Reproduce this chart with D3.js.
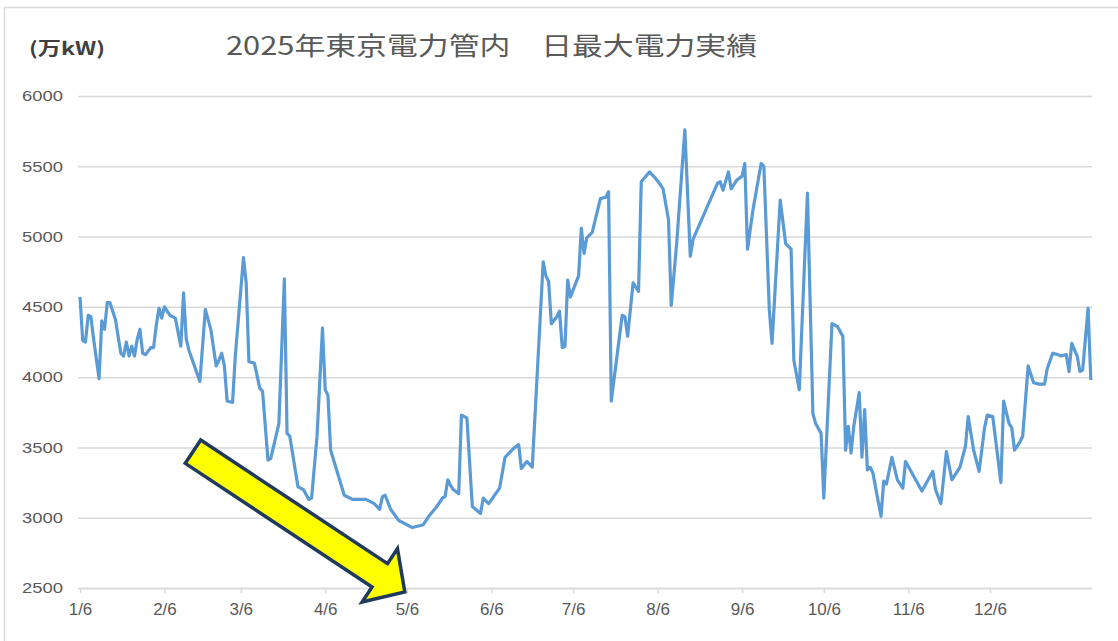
<!DOCTYPE html>
<html>
<head>
<meta charset="utf-8">
<script src="https://cdn.jsdelivr.net/npm/d3@7"></script>
<style>
  html, body { margin: 0; padding: 0; background: #fff; }
  svg { display: block; }
</style>
</head>
<body>
<svg id="chart" width="1118" height="641"></svg>
<script>
// days counted from 1/6, daily max demand (万kW)
const dayOffsets = [
    0, 1, 2, 3, 4, 5, 7, 8, 9, 10, 11, 13, 15, 16, 17, 18, 19, 20, 21, 22,
    23, 24, 26, 27, 28, 29, 30, 31, 33, 35, 37, 38, 39, 40, 44, 46, 48, 50, 51, 52,
    53, 54, 56, 57, 60, 61, 62, 64, 66, 67, 69, 70, 73, 75, 76, 77, 80, 82, 84, 85,
    87, 89, 90, 91, 92, 97, 100, 105, 108, 110, 111, 112, 114, 117, 122, 126, 128, 131, 133, 134,
    135, 136, 137, 139, 140, 142, 144, 147, 148, 150, 154, 156, 159, 161, 162, 164, 166, 170, 171, 172,
    173, 175, 176, 177, 178, 179, 180, 183, 184, 185, 186, 188, 191, 193, 194, 195, 199, 200, 201, 203,
    205, 206, 209, 211, 213, 214, 216, 217, 219, 222, 224, 225, 234, 235, 236, 238, 239, 241, 243, 244,
    245, 247, 250, 251, 253, 254, 257, 259, 261, 262, 264, 267, 269, 270, 272, 273, 276, 278, 280, 281,
    282, 283, 284, 286, 287, 288, 289, 290, 291, 294, 295, 296, 298, 300, 302, 303, 305, 309, 311, 313,
    314, 316, 318, 320, 323, 325, 326, 328, 330, 332, 333, 335, 338, 339, 341, 342, 343, 345, 346, 348,
    350, 352, 354, 355, 357, 359, 360, 362, 363, 364, 366, 367, 368, 370, 371
];
const demand = [
    4570, 4260, 4250, 4440, 4430, 4270, 3990, 4400, 4340, 4530, 4530, 4410, 4170, 4150, 4250, 4150, 4220, 4150, 4270, 4340,
    4170, 4160, 4210, 4210, 4370, 4490, 4420, 4500, 4440, 4420, 4220, 4600, 4270, 4190, 3970, 4480, 4340, 4080, 4120, 4170,
    4080, 3830, 3820, 4150, 4850, 4670, 4110, 4100, 3920, 3900, 3410, 3420, 3670, 4700, 3600, 3580, 3220, 3200, 3130, 3140,
    3580, 4350, 3910, 3870, 3480, 3160, 3130, 3130, 3100, 3060, 3150, 3160, 3060, 2980, 2930, 2950, 3010, 3080, 3140, 3150,
    3270, 3230, 3200, 3170, 3730, 3710, 3080, 3030, 3140, 3100, 3210, 3430, 3490, 3520, 3350, 3400, 3360, 4820, 4720, 4680,
    4380, 4430, 4470, 4210, 4220, 4690, 4570, 4720, 5060, 4880, 4990, 5030, 5270, 5280, 5320, 3830, 4440, 4430, 4290, 4670,
    4610, 5390, 5460, 5420, 5370, 5340, 5120, 4510, 4950, 5760, 4860, 4980, 5380, 5390, 5330, 5460, 5340, 5400, 5430, 5520,
    4910, 5190, 5520, 5500, 4480, 4240, 5260, 4950, 4910, 4120, 3910, 5310, 3740, 3670, 3600, 3140, 4380, 4360, 4290, 3480,
    3650, 3460, 3650, 3890, 3430, 3770, 3340, 3360, 3320, 3010, 3260, 3240, 3430, 3270, 3210, 3400, 3330, 3190, 3260, 3330,
    3200, 3100, 3470, 3270, 3360, 3510, 3720, 3480, 3330, 3640, 3730, 3720, 3250, 3830, 3670, 3640, 3480, 3540, 3580, 4080,
    3960, 3950, 3950, 4060, 4170, 4160, 4150, 4160, 4040, 4240, 4150, 4040, 4050, 4490, 3980
];

const tickDays = [0, 31, 59, 90, 120, 151, 181, 212, 243, 273, 304, 334];
const tickLabels = ["1/6", "2/6", "3/6", "4/6", "5/6", "6/6", "7/6", "8/6", "9/6", "10/6", "11/6", "12/6"];
const yTicks = [2500, 3000, 3500, 4000, 4500, 5000, 5500, 6000];

const svg = d3.select("#chart");

const x = d3.scaleLinear().domain([0, 334]).range([80, 990]);
const y = d3.scaleLinear().domain([2500, 6000]).range([588, 96]);

// frame
svg.append("rect")
    .attr("x", 4.5).attr("y", 7.5)
    .attr("width", 1300).attr("height", 800)
    .attr("fill", "none")
    .attr("stroke", "#d9d9d9")
    .attr("stroke-width", 1.5);

// gridlines + y labels
const yAxis = d3.axisLeft(y)
    .tickValues(yTicks)
    .tickFormat(d3.format("d"))
    .tickSize(-(1092 - 78))
    .tickPadding(15);

const yg = svg.append("g")
    .attr("transform", "translate(78,0)")
    .call(yAxis);
yg.select(".domain").remove();
yg.selectAll(".tick line")
    .attr("stroke", "#d9d9d9")
    .attr("stroke-width", 1.5);
yg.selectAll(".tick text")
    .attr("fill", "#595959")
    .style("font-family", "'Liberation Sans', Arial, sans-serif")
    .style("font-size", "15px")
    .attr("textLength", 41)
    .attr("lengthAdjust", "spacingAndGlyphs");

// x axis
const xAxis = d3.axisBottom(x)
    .tickValues(tickDays)
    .tickFormat((d, i) => tickLabels[i])
    .tickSize(5)
    .tickPadding(10)
    .tickSizeOuter(0);

const xg = svg.append("g")
    .attr("transform", "translate(0,588)")
    .call(xAxis);
xg.select(".domain")
    .attr("d", "M78,0.5H1092")
    .attr("stroke", "#d9d9d9")
    .attr("stroke-width", 1.5);
xg.selectAll(".tick line")
    .attr("stroke", "#d9d9d9")
    .attr("stroke-width", 1.5);
xg.selectAll(".tick text")
    .attr("fill", "#595959")
    .style("font-family", "'Liberation Sans', Arial, sans-serif")
    .style("font-size", "17px");

// demand line
const points = dayOffsets.map((d, i) => [d, demand[i]]);
const line = d3.line()
    .x(d => x(d[0]))
    .y(d => y(d[1]));

svg.append("path")
    .datum(points)
    .attr("d", line)
    .attr("fill", "none")
    .attr("stroke", "#5b9bd5")
    .attr("stroke-width", 3.2)
    .attr("stroke-linejoin", "round");

// titles
svg.append("text")
    .attr("x", 29).attr("y", 55)
    .attr("fill", "#404040")
    .style("font-family", "'Noto Sans CJK JP', sans-serif")
    .style("font-size", "18px")
    .style("font-weight", "bold")
    .attr("textLength", 76)
    .attr("lengthAdjust", "spacingAndGlyphs")
    .text("(万kW)");

svg.append("text")
    .attr("x", 226).attr("y", 55)
    .attr("fill", "#595959")
    .style("font-family", "'Noto Sans CJK JP', sans-serif")
    .style("font-size", "25px")
    .attr("textLength", 531)
    .attr("lengthAdjust", "spacingAndGlyphs")
    .text("2025年東京電力管内\u3000日最大電力実績");

// annotation arrow (downward trend)
const shaftHalf = 14, headHalf = 32, headStart = 224, arrowLen = 254;
const arrowShape = [
    [0, -shaftHalf], [headStart, -shaftHalf], [headStart, -headHalf],
    [arrowLen, 0],
    [headStart, headHalf], [headStart, shaftHalf], [0, shaftHalf]
];
svg.append("polygon")
    .attr("points", arrowShape.map(p => p.join(",")).join(" "))
    .attr("transform", "translate(193,451.7) rotate(33.5)")
    .attr("fill", "#ffff00")
    .attr("stroke", "#203a5c")
    .attr("stroke-width", 3.5)
    .attr("stroke-linejoin", "miter");
</script>
</body>
</html>
